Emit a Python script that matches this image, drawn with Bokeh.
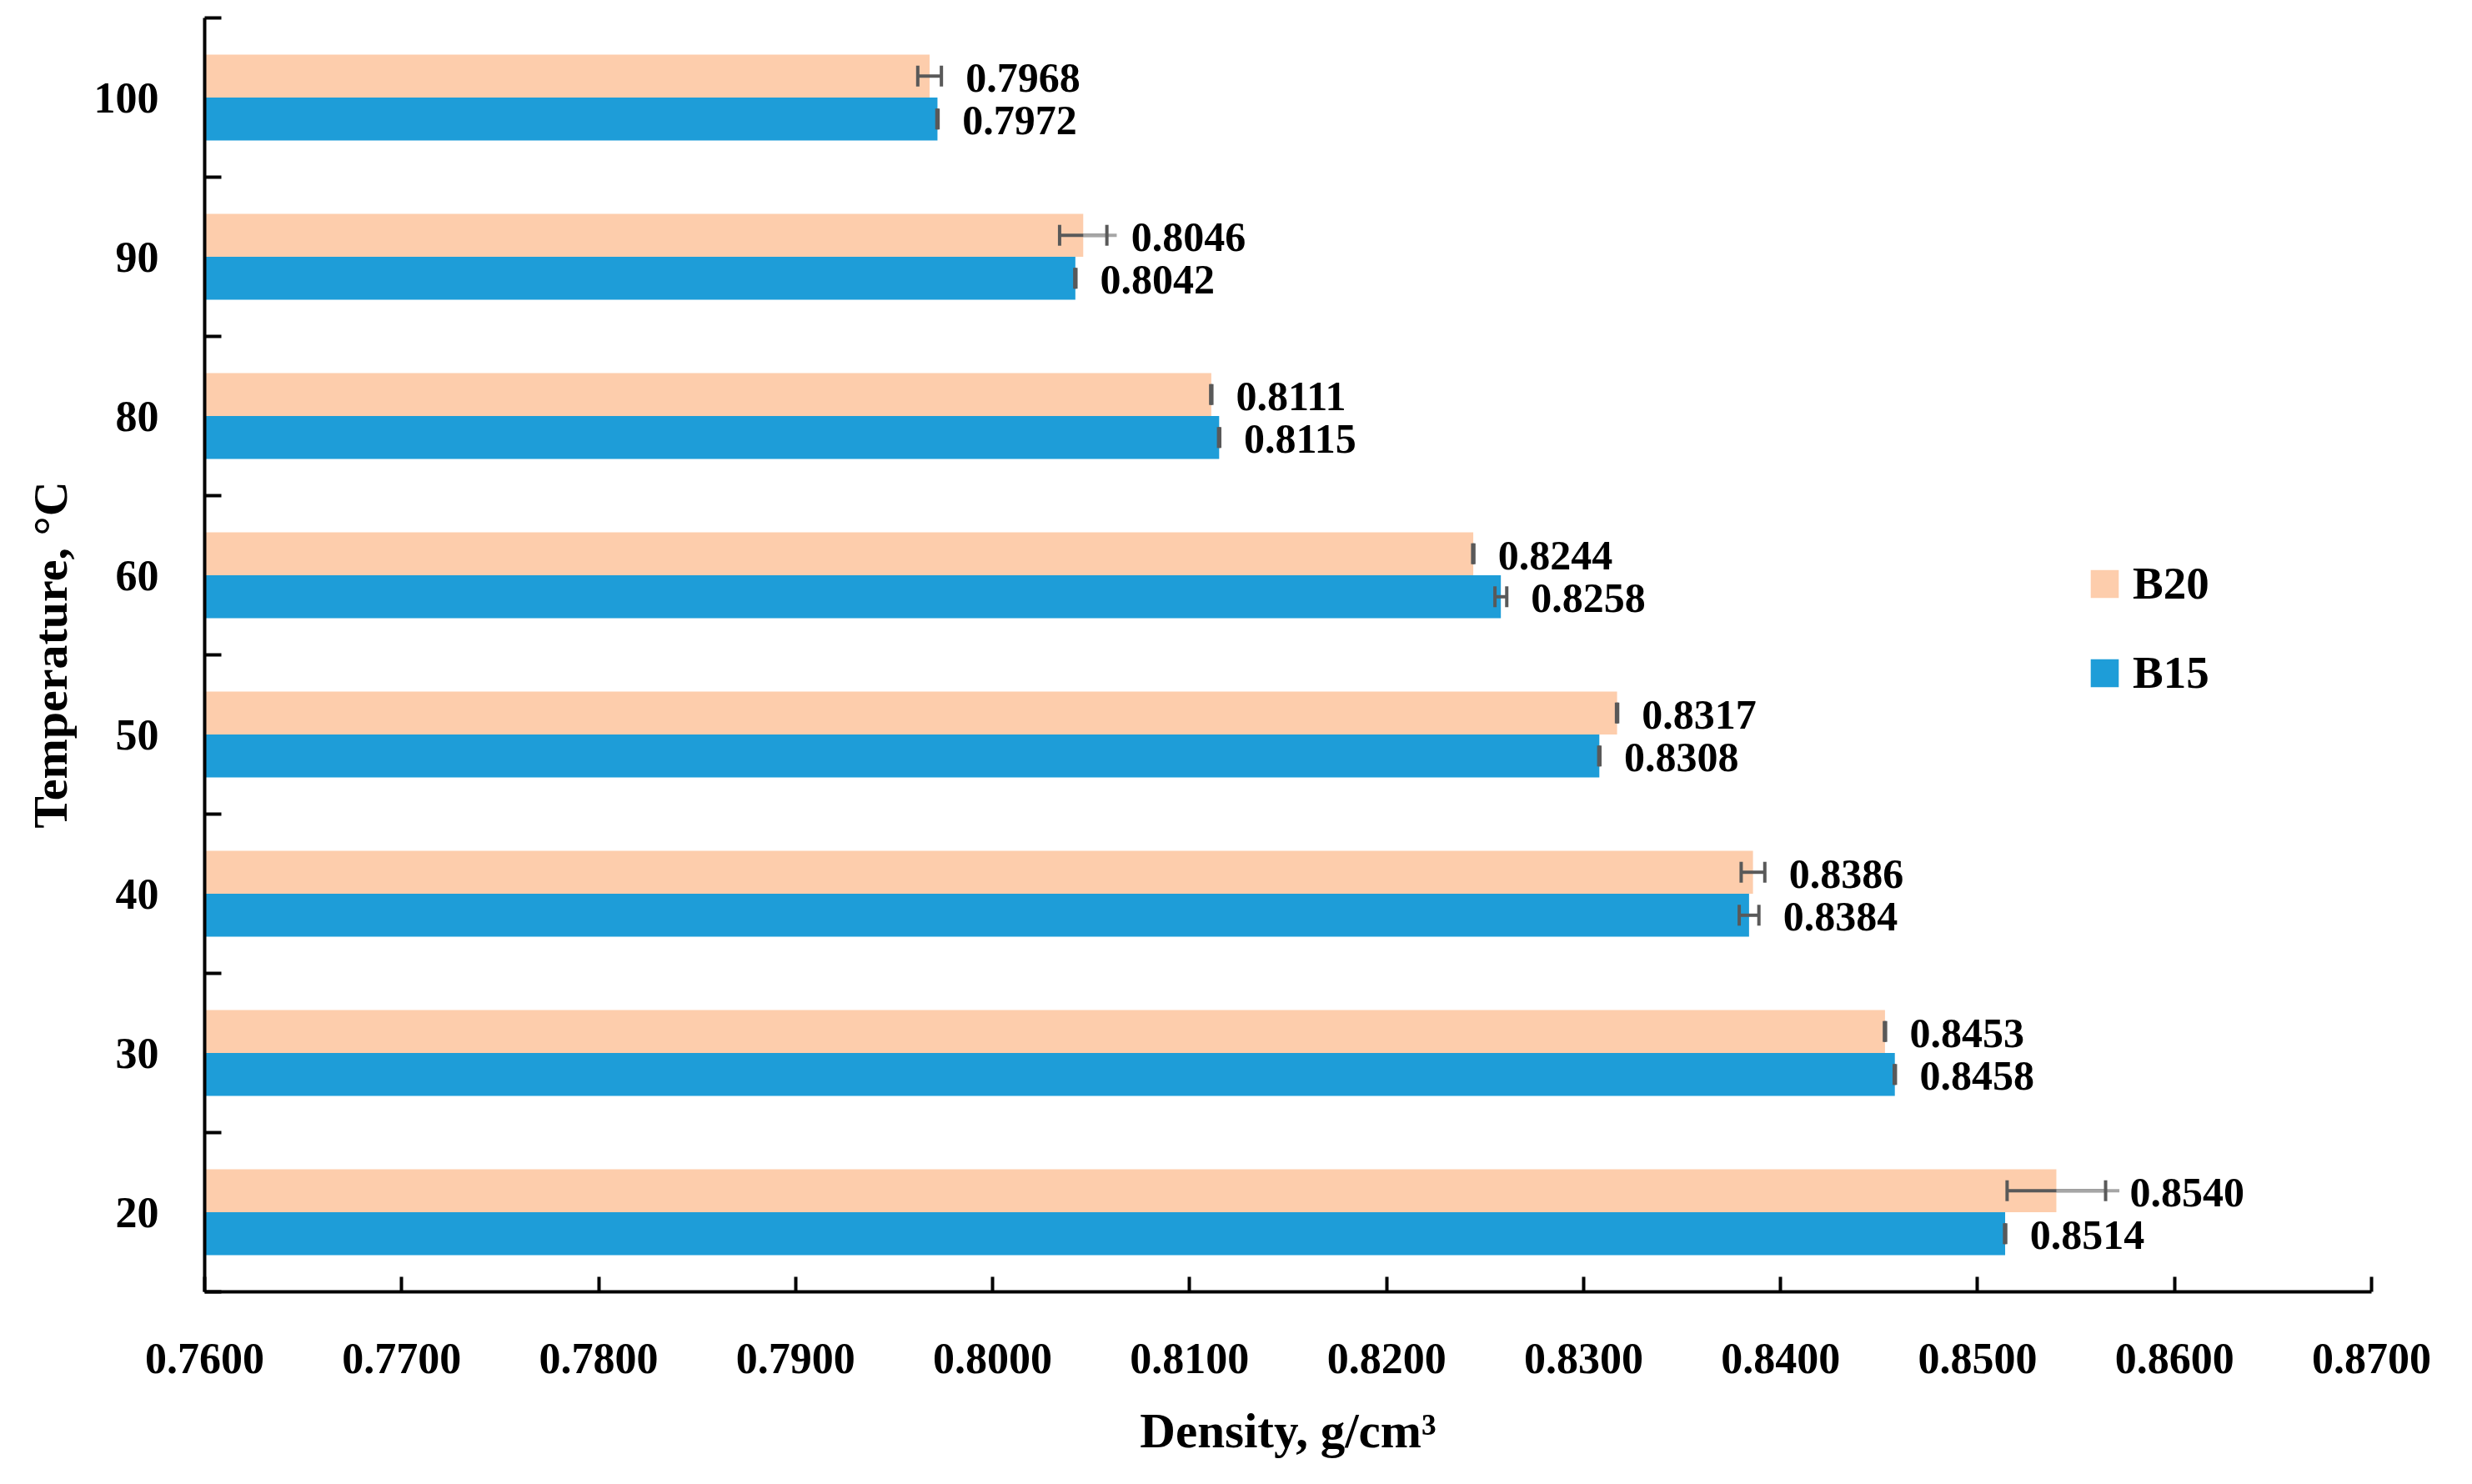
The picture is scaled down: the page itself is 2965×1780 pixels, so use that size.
import numpy as np
from bokeh.plotting import figure
from bokeh.models import (ColumnDataSource, FixedTicker, Range1d, Legend, LegendItem,
                          PrintfTickFormatter)
from bokeh.core.properties import value
from bokeh.embed import file_html
from bokeh.resources import INLINE

# ---------------- data ----------------
temperatures = [20, 30, 40, 50, 60, 80, 90, 100]
b20 = [0.8540, 0.8453, 0.8386, 0.8317, 0.8244, 0.8111, 0.8046, 0.7968]
b15 = [0.8514, 0.8458, 0.8384, 0.8308, 0.8258, 0.8115, 0.8042, 0.7972]
b20_err = [0.0025, 0.00003, 0.0006, 0.00003, 0.00003, 0.00003, 0.0012, 0.0006]
b15_err = [0.00003, 0.00003, 0.0005, 0.00003, 0.0003, 0.00003, 0.00003, 0.00003]
b20_err_plus_line = [0.0032, 0.0, 0.0, 0.0, 0.0, 0.0, 0.0017, 0.0]
x_ticks = [0.76, 0.77, 0.78, 0.79, 0.80, 0.81, 0.82, 0.83, 0.84, 0.85, 0.86, 0.87]
series_names = ["B20", "B15"]

# ---------------- style ----------------
FONT = "Liberation Serif"
C_B20 = "#FDCDAC"
C_B15 = "#1E9DD8"
C_ERR = "#595959"
C_ERR_LIGHT = "#A6A6A6"
BAR_H = 0.27
OFF = 0.135

n = len(temperatures)
centers = np.arange(n) + 0.5
y20 = centers + OFF
y15 = centers - OFF

W, H = 2949, 1764
p = figure(width=W, height=H, output_backend="svg", toolbar_location=None, title=None,
           x_range=Range1d(x_ticks[0], x_ticks[-1]), y_range=Range1d(0, n),
           min_border_left=245, min_border_top=21, min_border_right=105,
           min_border_bottom=215)
p.outline_line_color = None
p.xgrid.visible = False
p.ygrid.visible = False
p.background_fill_color = "white"

def src(vals, errs, ys):
    vals = np.array(vals); errs = np.array(errs)
    d = dict(y=ys, v=vals, lo=vals - errs, hi=vals + errs,
             lab=["%.4f" % v for v in vals])
    return ColumnDataSource(d)

s20 = src(b20, b20_err, y20)
s15 = src(b15, b15_err, y15)

r20 = p.hbar(y="y", right="v", left=x_ticks[0], height=BAR_H, source=s20,
             fill_color=C_B20, line_color=None)
r15 = p.hbar(y="y", right="v", left=x_ticks[0], height=BAR_H, source=s15,
             fill_color=C_B15, line_color=None)

# error bars
for s in (s20, s15):
    p.segment(x0="lo", y0="y", x1="hi", y1="y", source=s, line_color=C_ERR, line_width=4)
light = ColumnDataSource(dict(
    y=[y for y, e in zip(y20, b20_err_plus_line) if e > 0],
    x0=[v for v, e in zip(b20, b20_err_plus_line) if e > 0],
    x1=[v + e for v, e in zip(b20, b20_err_plus_line) if e > 0]))
p.segment(x0="x0", y0="y", x1="x1", y1="y", source=light, line_color=C_ERR_LIGHT, line_width=4)
for s in (s20, s15):
    for col in ("lo", "hi"):
        p.scatter(x=col, y="y", source=s, marker="dash", angle=np.pi / 2, size=25,
                  line_color=C_ERR, line_width=4)

# data labels
for s in (s20, s15):
    p.text(x="hi", y="y", text="lab", source=s, x_offset=29, y_offset=2,
           text_font=value(FONT), text_font_style="bold", text_font_size="50px",
           text_baseline="middle", text_align="left", text_color="black")

# x axis
xa = p.xaxis[0]
xa.ticker = FixedTicker(ticks=x_ticks)
xa.formatter = PrintfTickFormatter(format="%.4f")
xa.major_tick_in = 18
xa.major_tick_out = 0
xa.minor_tick_line_color = None
xa.major_tick_line_width = 4
xa.axis_line_width = 4
xa.major_label_standoff = 62
xa.major_label_text_font = FONT
xa.major_label_text_font_style = "bold"
xa.major_label_text_font_size = "52px"
xa.major_label_text_color = "black"
xa.axis_label = "Density, g/cm³"
xa.axis_label_text_font = FONT
xa.axis_label_text_font_style = "bold"
xa.axis_label_text_font_size = "59px"
xa.axis_label_text_color = "black"
xa.axis_label_standoff = 33

# y axis
ya = p.yaxis[0]
ya.ticker = FixedTicker(ticks=list(centers), minor_ticks=list(range(n + 1)))
ya.major_label_overrides = {float(c): str(t) for c, t in zip(centers, temperatures)}
ya.major_tick_line_color = None
ya.major_tick_in = 0
ya.major_tick_out = 0
ya.minor_tick_in = 20
ya.minor_tick_out = 0
ya.minor_tick_line_width = 4
ya.minor_tick_line_color = "black"
ya.axis_line_width = 4
ya.major_label_standoff = 55
ya.major_label_text_font = FONT
ya.major_label_text_font_style = "bold"
ya.major_label_text_font_size = "52px"
ya.major_label_text_color = "black"
ya.axis_label = "Temperature, °C"
ya.axis_label_text_font = FONT
ya.axis_label_text_font_style = "bold"
ya.axis_label_text_font_size = "58px"
ya.axis_label_text_color = "black"
ya.axis_label_standoff = 17

legend = Legend(items=[LegendItem(label=series_names[0], renderers=[r20]),
                       LegendItem(label=series_names[1], renderers=[r15])],
                location=(2258, 711), orientation="vertical",
                glyph_width=42, glyph_height=42, label_height=42,
                label_standoff=13, spacing=44, padding=0, margin=0,
                border_line_color=None, background_fill_alpha=0,
                label_text_font=FONT, label_text_font_style="bold",
                label_text_font_size="55px", label_text_color="black")
p.add_layout(legend)

open("out.html", "w").write(file_html(p, INLINE))
